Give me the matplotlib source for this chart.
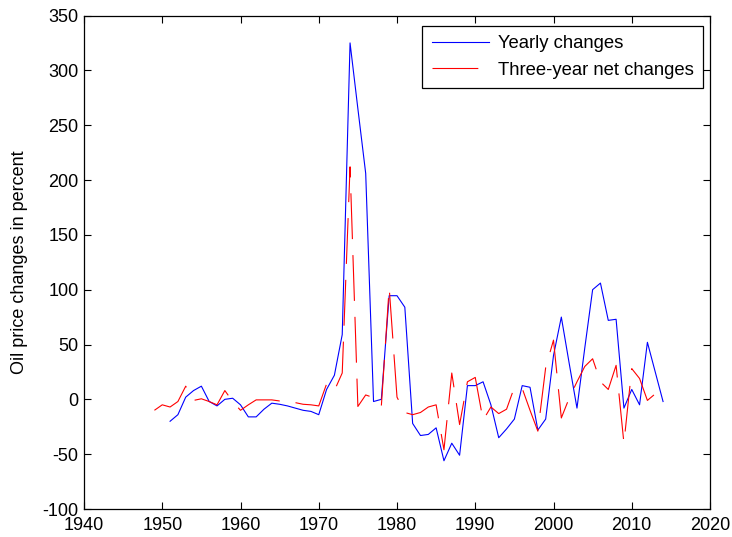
import matplotlib
matplotlib.use("Agg")
import matplotlib.pyplot as plt

plt.rcParams['font.family'] = ['Liberation Sans', 'DejaVu Sans']
plt.rcParams['font.size'] = 13
plt.rcParams['lines.scale_dashes'] = False
plt.rcParams['axes.unicode_minus'] = False

# yearly oil price changes, percent
yearly_years = list(range(1951, 2015))
yearly_changes = [-20, -14, 2, 8, 12, -2, -6, 0, 1, -5,
                  -16, -16, -9, -3.5, -4.5, -6, -8, -10, -11, -14,
                  9, 22, 59, 325, 265, 206, -2, 0, 94.5, 94.5,
                  84, -22, -33, -32, -26, -56, -40, -51, 12.5, 12.5,
                  16, -5, -35, -27, -18, 12.5, 11, -28, -18, 40,
                  75, 33, -8, 47, 100, 106, 72, 73, -8, 9,
                  -5, 52, 25, -2]

# three-year net changes, percent
net_years = list(range(1949, 2015))
net_changes = [-10, -5, -7, -2, 12, -1, 0.5, -2, -5, 8,
               -2, -10, -5, -0.5, -0.5, -0.5, -1.5, -1.5, -3, -4.5,
               -5, -6, 14, 8, 24, 212, -6.5, 4, 1.5, -6,
               102, 2, -12, -14, -12, -7, -5, -46, 24, -23,
               16, 20, -19, -7, -13, -9, 11, 10, -10, -29,
               29, 54, -17, 1, 16, 30, 37, 16, 9, 31,
               -40, 28, 19, -1, 5, -4]

fig = plt.figure(figsize=(7.32, 5.37), dpi=100)
ax = fig.add_axes([84 / 732, 1 - 509 / 537, 626 / 732, 493.5 / 537])

ax.plot(yearly_years, yearly_changes, color='#0000ff', lw=0.8, label='Yearly changes')
ax.plot(net_years, net_changes, color='#ff0000', lw=0.8, linestyle=(0, (33, 11.5)),
        label='Three-year net changes')

ax.set_xlim(1940, 2020)
ax.set_ylim(-100, 350)
ax.set_xticks(range(1940, 2021, 10))
ax.set_yticks(range(-100, 351, 50))
ax.tick_params(direction='in', length=5, width=0.8, top=True, right=True, labelsize=13)
ax.tick_params(axis='x', pad=6)
ax.tick_params(axis='y', pad=4)
for s in ax.spines.values():
    s.set_linewidth(0.9)

ax.set_ylabel('Oil price changes in percent', fontsize=13)
ax.yaxis.set_label_coords(-0.09, 0.5)

leg = ax.legend(loc='upper right', bbox_to_anchor=(0.9888, 0.9787), borderaxespad=0,
                fancybox=False, edgecolor='black', framealpha=1, fontsize=13.3,
                handlelength=3.09, handletextpad=0.5, labelspacing=0.52,
                borderpad=0.5)
leg.get_frame().set_linewidth(0.9)

fig.savefig('out.png', dpi=100)
